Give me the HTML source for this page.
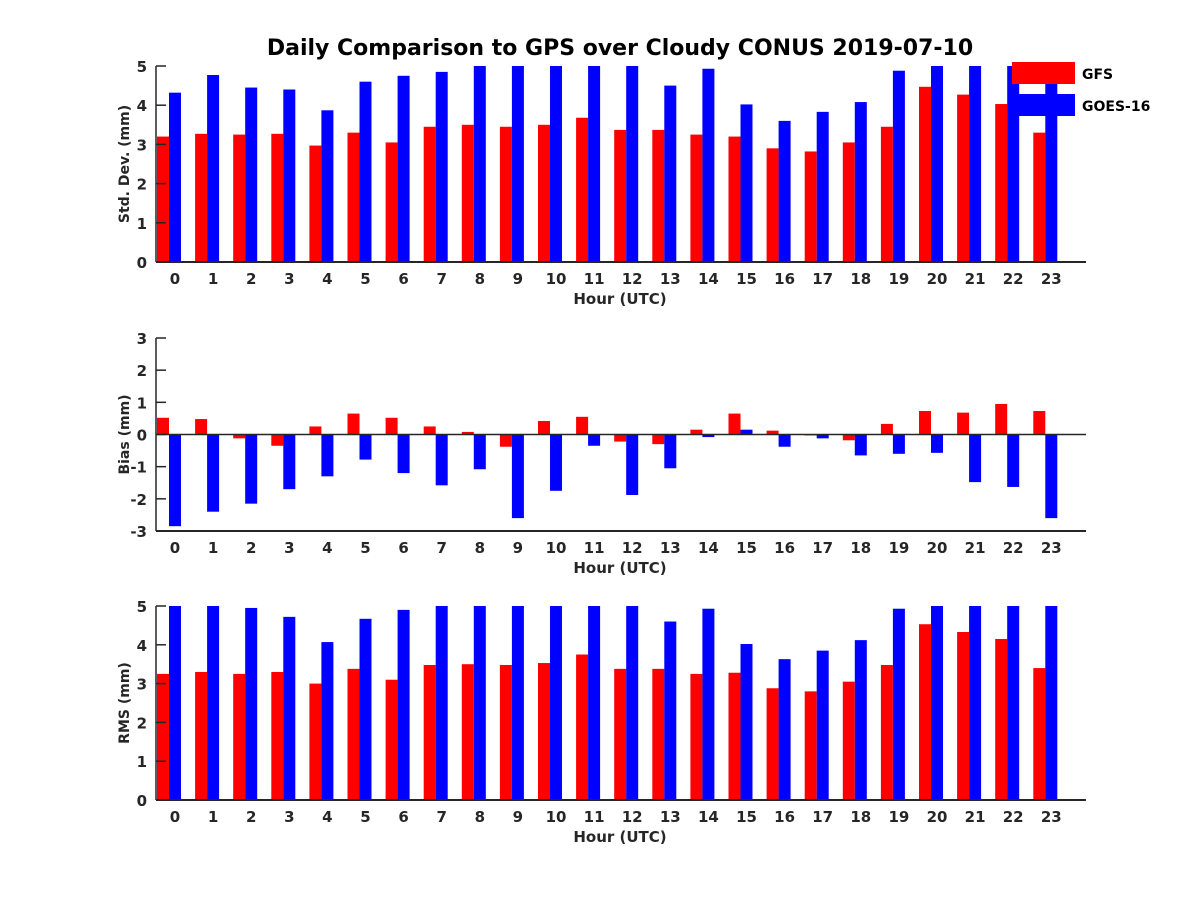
<!DOCTYPE html>
<html><head><meta charset="utf-8"><style>
body{margin:0;background:#fff}
text{font-family:"DejaVu Sans","Liberation Sans",sans-serif;font-weight:bold;fill:#262626}
</style></head><body>
<svg id="chart" width="1200" height="900" xmlns="http://www.w3.org/2000/svg">
<text x="620" y="55" text-anchor="middle" font-size="22" style="fill:#000">Daily Comparison to GPS over Cloudy CONUS 2019-07-10</text>
</svg>
<script>
const hours=[...Array(24).keys()];
const stdGFS=[3.2,3.27,3.25,3.27,2.97,3.3,3.05,3.45,3.5,3.45,3.5,3.68,3.37,3.37,3.25,3.2,2.9,2.82,3.05,3.45,4.47,4.27,4.03,3.3];
const stdGOES=[4.32,4.77,4.45,4.4,3.87,4.6,4.75,4.85,5.2,5.2,5.2,5.2,5.2,4.5,4.93,4.02,3.6,3.83,4.08,4.88,5.2,5.2,5.0,5.2];
const biasGFS=[0.52,0.48,-0.12,-0.35,0.25,0.65,0.52,0.25,0.08,-0.38,0.42,0.55,-0.22,-0.3,0.15,0.65,0.12,-0.03,-0.18,0.33,0.73,0.68,0.95,0.73];
const biasGOES=[-2.85,-2.4,-2.15,-1.7,-1.3,-0.78,-1.2,-1.58,-1.08,-2.6,-1.75,-0.35,-1.88,-1.05,-0.08,0.15,-0.38,-0.12,-0.65,-0.6,-0.57,-1.48,-1.63,-2.6];
const rmsGFS=[3.25,3.3,3.25,3.3,3.0,3.38,3.1,3.48,3.5,3.48,3.53,3.75,3.38,3.38,3.25,3.28,2.88,2.8,3.05,3.48,4.53,4.33,4.15,3.4];
const rmsGOES=[5.2,5.2,4.95,4.72,4.07,4.67,4.9,5.2,5.2,5.2,5.2,5.2,5.2,4.6,4.93,4.02,3.63,3.85,4.12,4.93,5.2,5.2,5.2,5.2];
const stdTicks=[0,1,2,3,4,5];
const biasTicks=[-3,-2,-1,0,1,2,3];
const rmsTicks=[0,1,2,3,4,5];
const svg=document.getElementById('chart');
const NS='http://www.w3.org/2000/svg';
function mk(tag,attrs,parent){const e=document.createElementNS(NS,tag);for(const k in attrs)e.setAttribute(k,attrs[k]);(parent||svg).appendChild(e);return e;}
const xc=i=>169+38.1*i;
function panel(name,top,bottom,ymin,ymax,ticks,ylabel,a,b){
  const g=mk('g',{});
  
  
  const y=v=>bottom-(v-ymin)/(ymax-ymin)*(bottom-top);
  const base=ymin<0?y(0):bottom;
  const clip=v=>Math.max(ymin,Math.min(ymax,v));
  hours.forEach(i=>{
    [[a,'#ff0000',-12,'gfs'],[b,'#0000ff',0,'goes']].forEach(([arr,col,off,s])=>{
      const yv=y(clip(arr[i]));
      const r=mk('rect',{x:xc(i)+off,y:Math.min(yv,base),width:12,height:Math.abs(base-yv),fill:col},g);
      
      
    });
    const t=mk('text',{x:xc(i)+6,y:bottom+22,'text-anchor':'middle','font-size':15},g);
    t.textContent=hours[i];
    
    
  });
  if(ymin<0){const z=mk('line',{x1:156,x2:1086,y1:base,y2:base,stroke:'#262626','stroke-width':1.5},g);
    }
  mk('line',{x1:156,x2:156,y1:top,y2:bottom,stroke:'#262626','stroke-width':1.5},g);
  mk('line',{x1:156,x2:1086,y1:bottom,y2:bottom,stroke:'#262626','stroke-width':2},g);
  ticks.forEach(v=>{
    mk('line',{x1:156,x2:166,y1:y(v),y2:y(v),stroke:'#262626','stroke-width':1.5},g);
    const t=mk('text',{x:147,y:y(v)+6,'text-anchor':'end','font-size':15},g);
    t.textContent=v;
    
    
  });
  const xl=mk('text',{x:620,y:bottom+42,'text-anchor':'middle','font-size':15},g);
  xl.textContent='Hour (UTC)';
  
  
  const cy=(top+bottom)/2;
  const yl=mk('text',{x:0,y:0,'text-anchor':'middle','font-size':14,transform:`translate(129,${cy}) rotate(-90)`},g);
  yl.textContent=ylabel;
  
  
}
panel('std-dev',66,262,0,5,stdTicks,'Std. Dev. (mm)',stdGFS,stdGOES);
panel('bias',338,531,-3,3,biasTicks,'Bias (mm)',biasGFS,biasGOES);
panel('rms',606,800,0,5,rmsTicks,'RMS (mm)',rmsGFS,rmsGOES);
const lg=mk('g',{});


[['GFS','#ff0000',62],['GOES-16','#0000ff',94]].forEach(([n,c,yy])=>{
  const r=mk('rect',{x:1012,y:yy,width:63,height:22,fill:c},lg);
  
  
  const t=mk('text',{x:1082,y:yy+17,'font-size':14,style:'fill:#000'},lg);
  t.textContent=n;
  
  
});
</script>
</body></html>
